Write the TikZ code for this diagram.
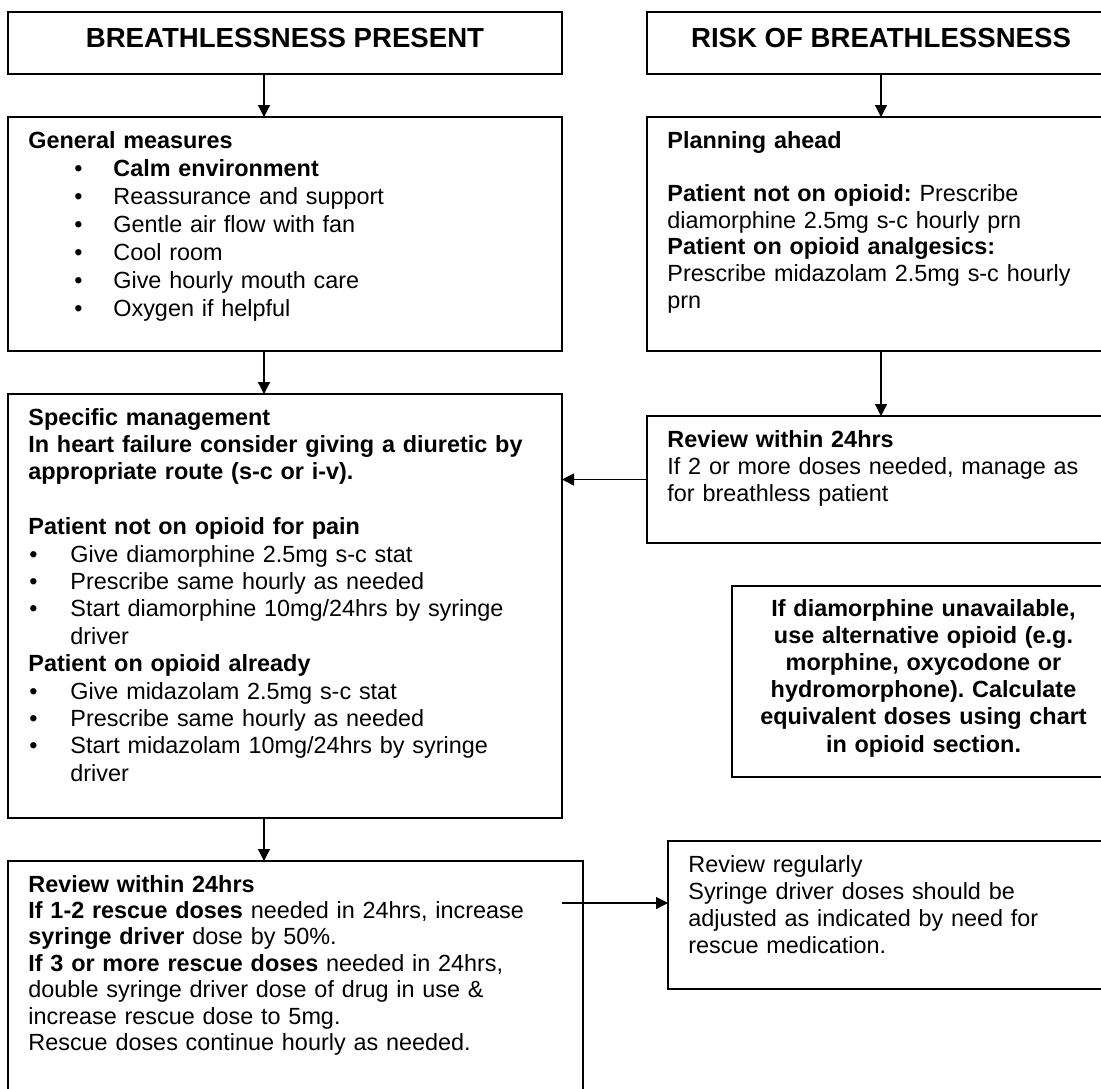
\documentclass[tikz,border=0pt]{standalone}
\usepackage{fontspec}
\setmainfont{Liberation Sans}
\usetikzlibrary{arrows.meta,fit}

\tikzset{
  box/.style={draw, line width=0.8pt, inner sep=0pt, outer sep=0pt},
  txt/.style={anchor=base west, inner sep=0pt, align=left, text width=290pt,
    font=\fontsize{11.7}{#1}\selectfont\frenchspacing},
  txt/.default=13.7,
  head/.style={anchor=base, inner sep=0pt, font=\fontsize{13.8}{16}\selectfont\bfseries},
  arr/.style={line width=0.6pt, -{Triangle[length=6pt,width=6pt]}}
}
\newcommand\bulA{\hspace*{23pt}\makebox[19.5pt][l]{\textbullet}}
\newcommand\bulB{\hspace*{0.5pt}\makebox[20.5pt][l]{\textbullet}}

\begin{document}
\begin{tikzpicture}[x=0.5pt,y=-0.5pt]
  \fill[white] (0,0) rectangle (1101,1088);
  \useasboundingbox (0,0) rectangle (1101,1088);
  \node[box, fit={(8,12) (562,74)}] (bp) {};
  \node[box, fit={(647,12) (1115,74)}] (rb) {};
  \node[box, fit={(8,117) (562,351)}] (gm) {};
  \node[box, fit={(647,117) (1115,351)}] (pa) {};
  \node[box, fit={(8,394) (562,818)}] (sm) {};
  \node[box, fit={(647,416) (1115,543)}] (rv) {};
  \node[box, fit={(732,586) (1115,777)}] (op) {};
  \node[box, fit={(8,861) (583,1110)}] (rw) {};
  \node[box, fit={(668,841) (1115,989)}] (rr) {};
  \coordinate (rwout) at (562,903);

  \node[head] (bptitle) at ([yshift=-17.5pt]bp.north) {BREATHLESSNESS PRESENT};
  \node[head] (rbtitle) at ([yshift=-17.5pt]rb.north) {RISK OF BREATHLESSNESS};
  \node[txt=14] (gmtext) at (28,148) {\textbf{General measures}\\
    \bulA\textbf{Calm environment}\\
    \bulA Reassurance and support\\
    \bulA Gentle air flow with fan\\
    \bulA Cool room\\
    \bulA Give hourly mouth care\\
    \bulA Oxygen if helpful};
  \node[txt=13.35] (patext) at (667,148) {\textbf{Planning ahead}\\[13.35pt]
    \textbf{Patient not on opioid:} Prescribe\\
    diamorphine 2.5mg s-c hourly prn\\
    \textbf{Patient on opioid analgesics:}\\
    Prescribe midazolam 2.5mg s-c hourly\\
    prn};
  \node[txt] (smtext) at (28,425) {\textbf{Specific management}\\
    \textbf{In heart failure consider giving a diuretic by}\\
    \textbf{appropriate route (s-c or i-v).}\\[13.7pt]
    \textbf{Patient not on opioid for pain}\\
    \bulB Give diamorphine 2.5mg s-c stat\\
    \bulB Prescribe same hourly as needed\\
    \bulB Start diamorphine 10mg/24hrs by syringe\\
    \hspace*{21pt}driver\\
    \textbf{Patient on opioid already}\\
    \bulB Give midazolam 2.5mg s-c stat\\
    \bulB Prescribe same hourly as needed\\
    \bulB Start midazolam 10mg/24hrs by syringe\\
    \hspace*{21pt}driver};
  \node[txt] (rvtext) at (667,447) {\textbf{Review within 24hrs}\\
    If 2 or more doses needed, manage as\\
    for breathless patient};
  \node[anchor=base, inner sep=0pt, align=center, text width=190pt,
    font=\fontsize{11.7}{13.6}\selectfont\bfseries\frenchspacing]
    (optext) at (923.5,616) {If diamorphine unavailable,\\
    use alternative opioid (e.g.\\
    morphine, oxycodone or\\
    hydromorphone). Calculate\\
    equivalent doses using chart\\
    in opioid section.};
  \node[txt=13.2] (rwtext) at (28,892) {\textbf{Review within 24hrs}\\
    \textbf{If 1-2 rescue doses} needed in 24hrs, increase\\
    \textbf{syringe driver} dose by 50\%.\\
    \textbf{If 3 or more rescue doses} needed in 24hrs,\\
    double syringe driver dose of drug in use \&\\
    increase rescue dose to 5mg.\\
    Rescue doses continue hourly as needed.};
  \node[txt=13.5] (rrtext) at (688,872) {Review regularly\\
    Syringe driver doses should be\\
    adjusted as indicated by need for\\
    rescue medication.};

  \draw[arr] ([xshift=-10.5pt]bp.south) -- ([xshift=-10.5pt]gm.north);
  \draw[arr] (rb.south) -- (pa.north);
  \draw[arr] ([xshift=-10.5pt]gm.south) -- ([xshift=-10.5pt]sm.north);
  \draw[arr] (pa.south) -- (rv.north);
  \draw[arr] (rv.west) -- (rv.west -| sm.east);
  \draw[arr] ([xshift=-10.5pt]sm.south) -- ([xshift=-10.5pt]sm.south |- rw.north);
  \draw[arr] (rwout) -- (rwout -| rr.west);
\end{tikzpicture}
\end{document}
